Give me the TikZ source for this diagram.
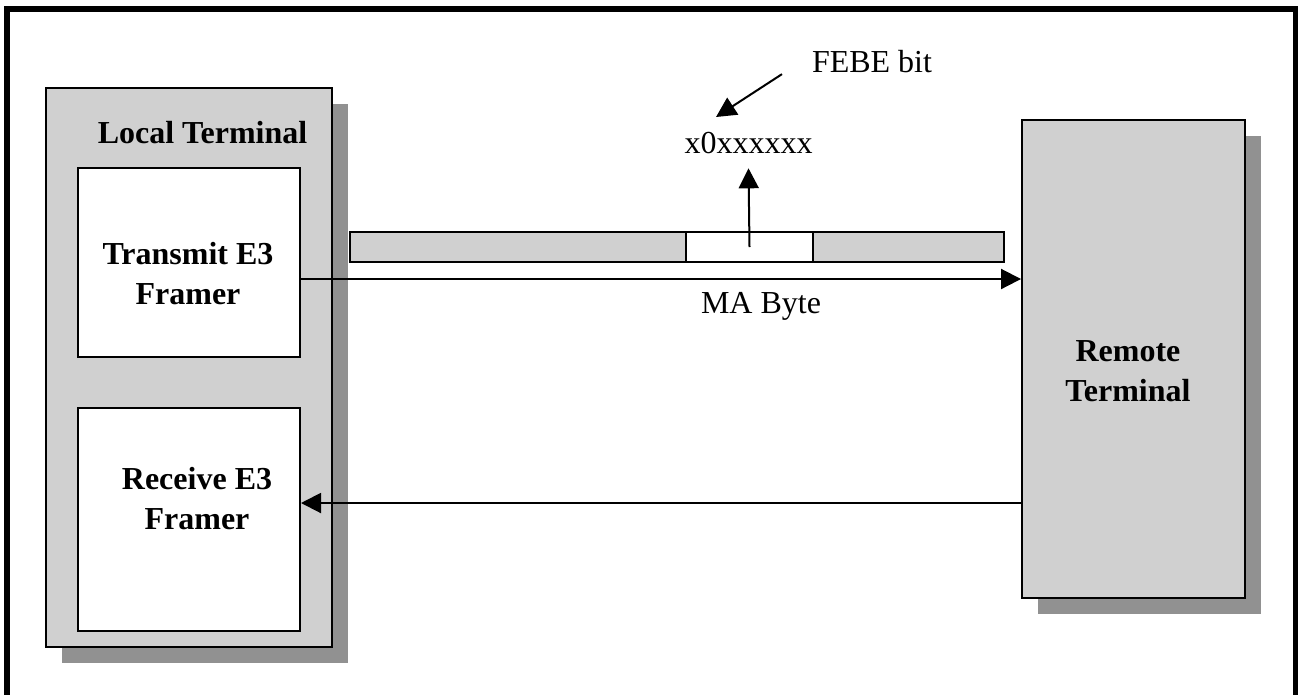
\documentclass[tikz,border=0pt]{standalone}
\usepackage{fontspec}
\setmainfont{Liberation Serif}
\usetikzlibrary{arrows.meta, shadows}
\definecolor{boxgray}{RGB}{208,208,208}
\definecolor{shadegray}{RGB}{145,145,145}

\begin{document}
\begin{tikzpicture}[
    x=0.375pt, y=-0.375pt,
    line width=0.75pt,
    terminal/.style={rectangle, draw, fill=boxgray, drop shadow={shadow xshift=6pt, shadow yshift=-6pt, fill=shadegray, opacity=1}},
    framer/.style={rectangle, draw, fill=white, minimum width=83.25pt},
    bar/.style={rectangle, draw, fill=boxgray, minimum height=11.25pt},
    title/.style={font=\fontsize{12}{15}\selectfont\bfseries, align=center},
    plain/.style={font=\fontsize{12}{14}\selectfont, anchor=base},
    arr/.style={-{Triangle[length=7.5pt, width=7.5pt]}}
]
\useasboundingbox (0,0) rectangle (1298,694);
\draw[line width=2.25pt] (7,720) -- (7,9) -- (1296,9) -- (1296,720);

\node[terminal, minimum width=107.25pt, minimum height=209.6pt] (local) at (189,367.5) {};
    \node[terminal, minimum width=83.6pt, minimum height=179.25pt] (remote) at (1133.5,359) {};

\node[framer, minimum height=70.9pt] (tx) at (189,262.5) {};
    \node[framer, minimum height=83.6pt] (rx) at (189,519.5) {};

\node[bar, minimum width=245.25pt] (stream) at (677,247) {};
    \node[bar, fill=white, line width=1pt, minimum width=47.6pt] (byte) at (749.5,247) {};

\node[title] (localname) at (202.5,133) {Local Terminal};
    \node[title] (txname) at (188,274) {Transmit E3\\Framer};
    \node[title] (rxname) at (197,499) {Receive E3\\Framer};
    \node[title] (remotename) at (1128,371) {Remote\\Terminal};

\node[plain] (mabyte) at (761,313) {MA Byte};
    \node[plain, inner sep=5.25pt] (bits) at (748.5,153) {x0xxxxxx};
    \node[plain] (febe) at (872,72) {FEBE bit};

\coordinate (txlevel) at (0,279);
    \coordinate (rxlevel) at (0,503);
    \coordinate (febetip) at (716,117);

\draw[arr] (tx.east |- txlevel) -- (remote.west |- txlevel);
    \draw[arr] (remote.west |- rxlevel) -- (rx.east |- rxlevel);
    \draw[arr] (byte.center) -- (bits.south);
    \draw[arr, shorten <=9pt] (febe.west) -- (febetip);
\end{tikzpicture}
\end{document}
